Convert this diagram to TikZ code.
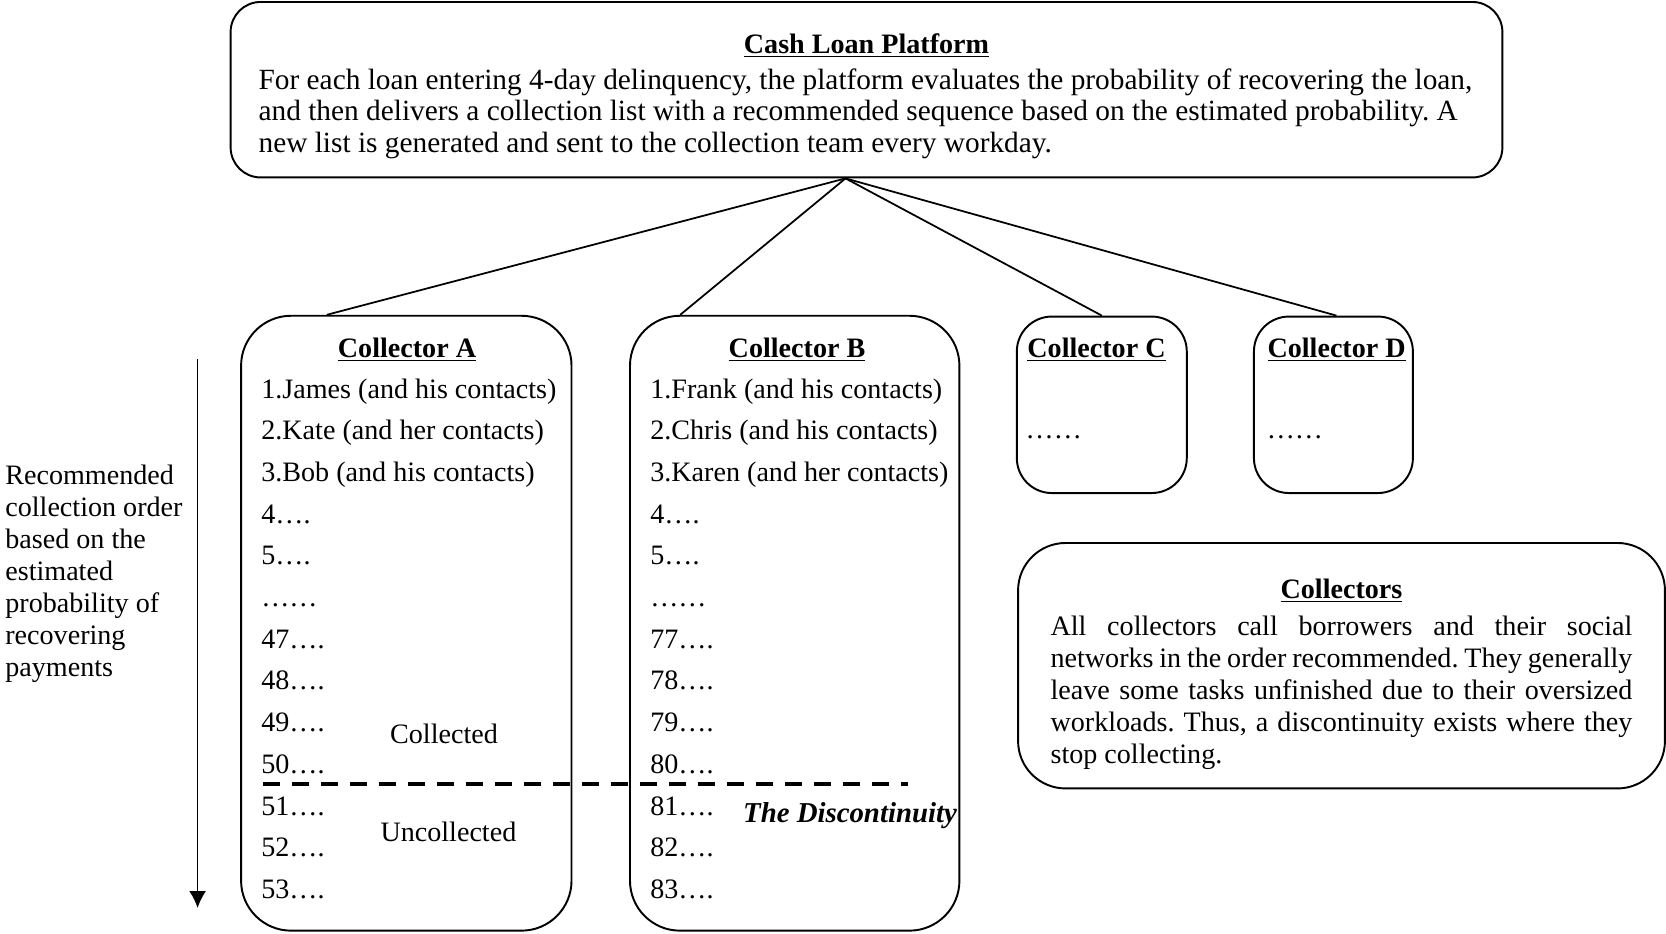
\documentclass[tikz,border=0pt]{standalone}
\usepackage{fontspec}
\setmainfont{Liberation Serif}
\usetikzlibrary{arrows.meta}
\frenchspacing

\begin{document}
\begin{tikzpicture}[x=0.02cm, y=-0.02cm,
  every node/.style={font=\fontsize{16}{18.15}\selectfont},
  boite/.style={draw, line width=1.1pt, rounded corners=#1},
  titre/.style={font=\fontsize{16}{18.15}\selectfont\bfseries},
  texte/.style={align=justify, inner sep=0pt},
  item/.style={anchor=base west, inner sep=0pt},
  lien/.style={line width=1pt}]
  \useasboundingbox (0,0) rectangle (1666,933);

  % Plateforme
  \node[boite=0.6cm, minimum width=25.44cm, minimum height=3.51cm] (platform) at (866.5,89.7) {};
  \node[texte, text width=24.32cm] (platformTxt) at (866.5,96.5)
    {{\centering\bfseries\underline{Cash Loan Platform}\par}\vspace{2pt}
     \fontsize{16.7}{18.15}\selectfont
     For each loan entering 4-day delinquency, the platform evaluates the probability of recovering the loan,\\
     and then delivers a collection list with a recommended sequence based on the estimated probability. A\\
     new list is generated and sent to the collection team every workday.};
  \coordinate (pivot) at ([xshift=-0.42cm]platform.south);

  % Boites des collecteurs
  \node[boite=1cm, minimum width=6.61cm, minimum height=12.3cm] (colA) at (406.3,623.2) {};
  \node[boite=1cm, minimum width=6.59cm, minimum height=12.3cm] (colB) at (794.7,623.2) {};
  \node[boite=0.7cm, minimum width=3.4cm, minimum height=3.53cm] (colC) at (1101.8,404.8) {};
  \node[boite=0.7cm, minimum width=3.18cm, minimum height=3.53cm] (colD) at (1333.4,404.8) {};

  % Liens
  \draw[lien] (pivot) -- ([xshift=-1.59cm]colA.north);
  \draw[lien] (pivot) -- ([xshift=-2.29cm]colB.north);
  \draw[lien] (pivot) -- (colC.north);
  \draw[lien] (pivot) -- ([xshift=0.06cm]colD.north);

  % Titres
  \node[titre] (titA) at (407,349.5) {\underline{Collector A}};
  \node[titre] (titB) at (797,349.5) {\underline{Collector B}};
  \node[titre] (titC) at (1096.5,349.5) {\underline{Collector C}};
  \node[titre] (titD) at (1336.6,349.5) {\underline{Collector D}};

  % Listes
  \foreach \t [count=\i] in {{1.James (and his contacts)}, {2.Kate (and her contacts)},
      {3.Bob (and his contacts)}, 4…., 5…., ……, 47…., 48…., 49…., 50…., 51…., 52…., 53….}
    \node[item] (a\i) at (261,{356.3+41.7*\i}) {\t};
  \foreach \t [count=\i] in {{1.Frank (and his contacts)}, {2.Chris (and his contacts)},
      {3.Karen (and her contacts)}, 4…., 5…., ……, 77…., 78…., 79…., 80…., 81…., 82…., 83….}
    \node[item] (b\i) at (650,{356.3+41.7*\i}) {\t};
  \node[item] (pointsC) at (1025.3,438) {……};
  \node[item] (pointsD) at (1266.5,438) {……};

  % Discontinuite
  \coordinate (coupeG) at (263,784);
  \coordinate (coupeD) at (908,784);
  \draw[line width=0.08cm, dash pattern=on 0.34cm off 0.24cm] (coupeG) -- (coupeD);
  \node (collected) at (444,734) {Collected};
  \node (uncollected) at (448.4,832) {Uncollected};
  \node[font=\fontsize{16.4}{18.15}\selectfont\bfseries\itshape] (disc) at (850,816) {The Discontinuity};

  % Ordre recommande
  \node[align=left, anchor=west, inner sep=0pt] (ordre) at (5,573.8)
    {Recommended\\collection order\\based on the\\estimated\\probability of\\recovering\\payments};
  \coordinate (ordHaut) at (197.6,359);
  \coordinate (ordBas) at (197.6,908);
  \draw[-{Latex[length=0.34cm,width=0.34cm]}, line width=1pt] (ordHaut) -- (ordBas);

  % Note
  \node[boite=0.95cm, minimum width=12.94cm, minimum height=4.91cm] (note) at (1341.5,665.7) {};
  \node[texte, text width=11.64cm] (noteTxt) at (1341.5,674)
    {{\centering\bfseries\underline{Collectors}\par}\vspace{3pt}
     All collectors call borrowers and their social\linebreak
     networks in the order recommended. They generally\linebreak
     leave some tasks unfinished due to their oversized\linebreak
     workloads. Thus, a discontinuity exists where they\linebreak
     stop collecting.};
\end{tikzpicture}
\end{document}
